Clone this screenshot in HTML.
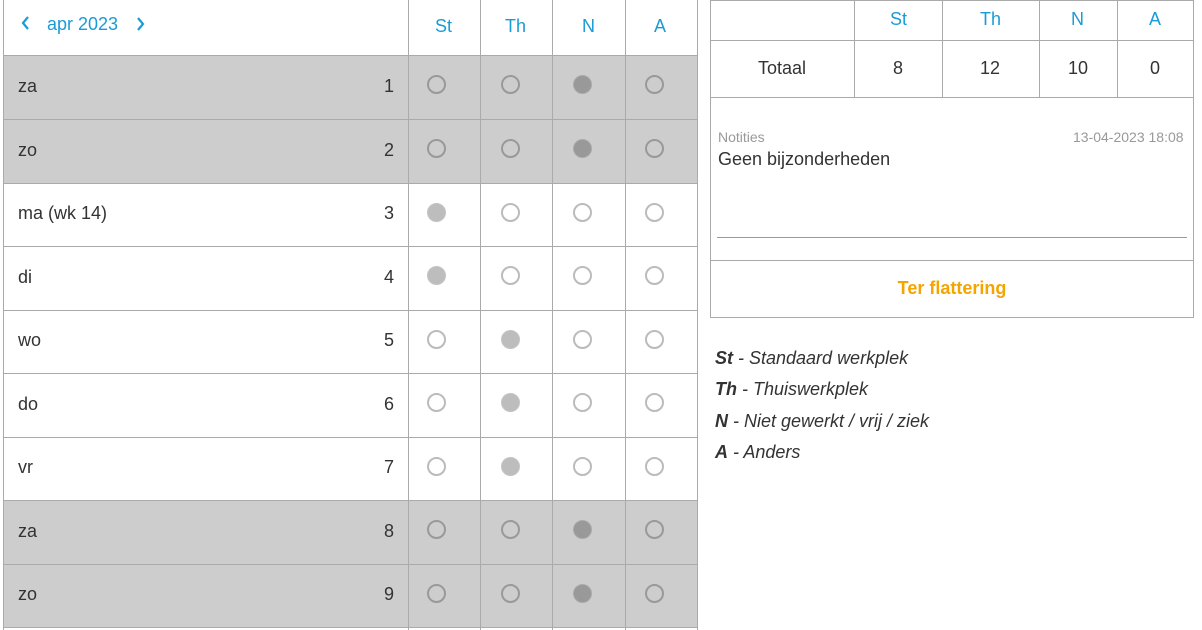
<!DOCTYPE html>
<html><head><meta charset="utf-8"><style>
body{margin:0;width:1202px;height:630px;background:#fff;position:relative;overflow:hidden;font-family:"Liberation Sans",Arial,sans-serif;color:#333}
.a{position:absolute}
.hl{position:absolute;height:1px;background:#aaa}
.vl{position:absolute;width:1px;background:#aaa}
.c{position:absolute;width:16px;height:16px;border-radius:50%;box-sizing:border-box}
.blue{color:#1a9bd7}
.t{position:absolute;font-size:18px}
</style></head><body>
<div id="L"></div>
<svg class="a" width="10" height="16" style="left:20px;top:15px"><path d="M8 2 L3 8 L8 14" stroke="#1a9bd7" stroke-width="2.2" fill="none"/></svg>
<div class="a blue" style="left:47px;top:14px;font-size:18px">apr 2023</div>
<svg class="a" width="10" height="16" style="left:136px;top:16px"><path d="M2 2 L7 8 L2 14" stroke="#1a9bd7" stroke-width="2.2" fill="none"/></svg>
<div class="t blue" style="left:435px;top:16px">St</div>
<div class="t blue" style="left:505px;top:16px">Th</div>
<div class="t blue" style="left:582px;top:16px">N</div>
<div class="t blue" style="left:654px;top:16px">A</div>

<div class="t" style="left:18px;top:76px">za</div><div class="t" style="left:384px;top:76px">1</div>
<div class="t" style="left:18px;top:140px">zo</div><div class="t" style="left:384px;top:140px">2</div>
<div class="t" style="left:18px;top:203px">ma (wk 14)</div><div class="t" style="left:384px;top:203px">3</div>
<div class="t" style="left:18px;top:267px">di</div><div class="t" style="left:384px;top:267px">4</div>
<div class="t" style="left:18px;top:330px">wo</div><div class="t" style="left:384px;top:330px">5</div>
<div class="t" style="left:18px;top:394px">do</div><div class="t" style="left:384px;top:394px">6</div>
<div class="t" style="left:18px;top:457px">vr</div><div class="t" style="left:384px;top:457px">7</div>
<div class="t" style="left:18px;top:521px">za</div><div class="t" style="left:384px;top:521px">8</div>
<div class="t" style="left:18px;top:584px">zo</div><div class="t" style="left:384px;top:584px">9</div>

<div class="t blue" style="left:890px;top:9px">St</div>
<div class="t blue" style="left:980px;top:9px">Th</div>
<div class="t blue" style="left:1071px;top:9px">N</div>
<div class="t blue" style="left:1149px;top:9px">A</div>
<div class="t" style="left:758px;top:58px">Totaal</div>
<div class="t" style="left:893px;top:58px">8</div>
<div class="t" style="left:980px;top:58px">12</div>
<div class="t" style="left:1068px;top:58px">10</div>
<div class="t" style="left:1150px;top:58px">0</div>
<div class="a" style="left:718px;top:129px;font-size:14px;color:#999">Notities</div>
<div class="a" style="left:1073px;top:129px;font-size:14px;color:#999">13-04-2023 18:08</div>
<div class="a" style="left:718px;top:149px;font-size:18px;color:#333">Geen bijzonderheden</div>
<div class="a" style="left:717px;top:237px;width:470px;height:1px;background:#999"></div>
<div class="a" style="left:710px;top:278px;width:484px;text-align:center;font-size:18px;font-weight:bold;color:#f5a500">Ter flattering</div>

<div class="a" style="left:715px;top:343px;font-size:18px;font-style:italic;line-height:31.3px;color:#333">
<b>St</b> - Standaard werkplek<br><b>Th</b> - Thuiswerkplek<br><b>N</b> - Niet gewerkt / vrij / ziek<br><b>A</b> - Anders</div>

<script>
var L=document.getElementById('L'),h='';
var ys=[55,119,183,246,310,373,437,500,564,627];
var grey=[1,1,0,0,0,0,0,1,1];
var fill=[2,2,0,0,1,1,1,2,2];
for(var i=0;i<9;i++){if(grey[i])h+='<div class="a" style="left:3px;top:'+ys[i]+'px;width:694px;height:'+(ys[i+1]-ys[i])+'px;background:#cdcdcd"></div>';}
for(var i=0;i<ys.length;i++)h+='<div class="hl" style="left:3px;top:'+ys[i]+'px;width:695px"></div>';
[3,408,480,552,625,697].forEach(function(x){h+='<div class="vl" style="left:'+x+'px;top:0;height:630px"></div>'});
var cx=[436,510,582,654];
for(var i=0;i<9;i++){var cy=(ys[i]+ys[i+1])/2-2;for(var j=0;j<4;j++){var g=grey[i],f=fill[i]==j;
var col=g?'#999':'#bbb';var s=f?'background:'+(g?'#999':'#bdbdbd')+';border:1px solid '+(g?'#aaa':'#c4c4c4'):'border:2px solid '+col;
h+='<div class="c" style="left:'+(cx[j]-9)+'px;top:'+(cy-10)+'px;width:19px;height:19px;'+s+'"></div>';}}
[0,40,97,260,317].forEach(function(y){h+='<div class="hl" style="left:710px;top:'+y+'px;width:484px"></div>'});
h+='<div class="vl" style="left:710px;top:0;height:318px"></div><div class="vl" style="left:1193px;top:0;height:318px"></div>';
[854,942,1039,1117].forEach(function(x){h+='<div class="vl" style="left:'+x+'px;top:0;height:97px"></div>'});
L.innerHTML=h;
</script>
</body></html>
